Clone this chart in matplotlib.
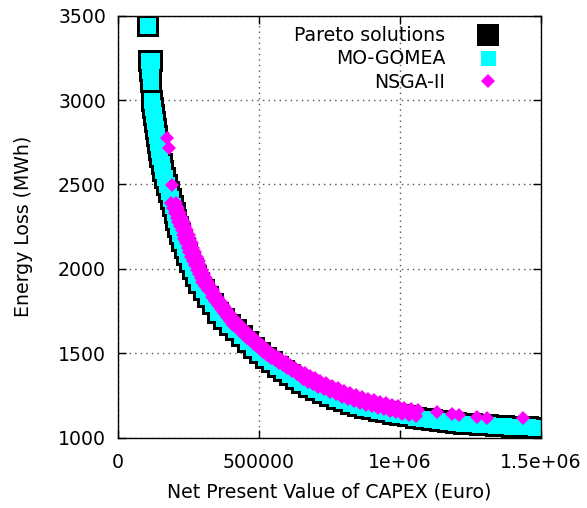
import matplotlib
matplotlib.use("Agg")
import matplotlib.pyplot as plt
from matplotlib.lines import Line2D

# ---- data ----
pareto_x = [105300, 111700, 118800, 113500, 115200, 117000, 117000,
            121600, 124100, 127700, 131200, 134800, 138300, 141800, 145400, 148900,
            154300, 159600, 164900, 172000, 179100, 186200, 193300, 200400, 207400,
            214500, 221600, 228700, 237600, 244700, 255300, 267700, 276600, 289000,
            305000, 320900, 336900, 354600, 375900, 397200, 418400, 439700, 461000,
            482300, 503500, 524800, 546100, 567400, 588700, 609900, 631200, 652500,
            677300, 702100, 727000, 751800, 776600, 801400, 826200, 851100, 875900,
            900700, 925500, 950400, 975200, 1000000, 1028400, 1056700, 1085100,
            1113500, 1141800, 1170200, 1198600, 1227000, 1255300, 1283700, 1312100,
            1340400, 1368800, 1397200, 1425500, 1453900, 1482300, 1510600]
pareto_y = [3439, 3232, 3232, 3202, 3172, 3143, 3107,
            2995, 2953, 2912, 2870, 2829, 2787, 2746, 2704, 2663,
            2621, 2580, 2539, 2497, 2456, 2414, 2373, 2331, 2290,
            2248, 2207, 2165, 2124, 2082, 2041, 1999, 1958, 1917,
            1875, 1834, 1792, 1739, 1703, 1668, 1635, 1603, 1567,
            1531, 1499, 1472, 1446, 1419, 1395, 1371, 1345, 1321,
            1300, 1283, 1265, 1247, 1229, 1214, 1200, 1188, 1176,
            1167, 1158, 1149, 1140, 1133, 1126, 1117, 1111,
            1105, 1099, 1093, 1087, 1082, 1078, 1075, 1072,
            1068, 1066, 1063, 1062, 1060, 1059, 1057]

gomea_x = list(pareto_x)
gomea_y = list(pareto_y)

nsga_x = [172700, 180900, 191500, 207400, 214500, 219900, 227000, 232300, 237600,
          244700, 250000, 255300, 262400, 267700, 273000, 280100, 285500, 290800,
          297900, 305000, 312100, 319100, 328000, 336900, 345700, 354600, 365200,
          375900, 386500, 397200, 407800, 418400, 430900, 443300, 455700, 468100,
          482300, 496500, 510600, 524800, 539000, 553200, 567400, 581600, 595700,
          609900, 627700, 645400, 663100, 680900, 698600, 716300, 737600, 758900,
          780100, 801400, 822700, 844000, 865200, 886500, 907800, 929100, 950400,
          971600, 992900, 1014200, 1039000, 1063800, 1130100, 1183300, 1210300,
          1272000, 1309600, 1437200,
          187900, 195000, 200400, 207500, 212800, 218100, 225200, 230500, 235800,
          242900, 248200, 253500, 260600, 266000, 271300, 278400, 285500, 292600,
          299600, 308500, 317400,
          335100, 344000, 354600, 365300, 375900, 386600, 397200, 407800, 420300,
          432700, 445100, 457500, 471700, 485900, 500000, 514200, 528400, 542600,
          556800, 571000, 585100, 599300, 617100, 634800,
          656000, 673800, 691500, 709200, 730500, 751800, 773000, 794300, 815600,
          836900, 858100, 879400, 900700, 922000, 943300, 964500, 985800, 1007100,
          1031900, 1056700]
nsga_y = [2776, 2719, 2497, 2390, 2361, 2331, 2302, 2278, 2254,
          2230, 2201, 2177, 2153, 2124, 2100, 2071, 2047, 2023,
          1994, 1970, 1946, 1922, 1899, 1875, 1851, 1828, 1804,
          1780, 1757, 1733, 1709, 1688, 1668, 1647, 1626, 1608,
          1588, 1567, 1546, 1526, 1508, 1490, 1475, 1460, 1446,
          1431, 1413, 1395, 1380, 1366, 1351, 1336, 1321, 1306,
          1291, 1277, 1265, 1253, 1241, 1229, 1220, 1212, 1203,
          1194, 1185, 1176, 1170, 1161, 1149, 1137, 1135,
          1124, 1117, 1115,
          2390, 2361, 2331, 2302, 2278, 2254, 2230, 2201, 2177,
          2153, 2124, 2100, 2071, 2047, 2023, 1994, 1970, 1946,
          1922, 1899, 1875,
          1833, 1810, 1786, 1762, 1739, 1715, 1691, 1670, 1650,
          1629, 1608, 1590, 1570, 1549, 1528, 1508, 1490, 1472,
          1457, 1442, 1428, 1413, 1395, 1377,
          1345, 1331, 1316, 1301, 1286, 1271, 1256, 1242, 1230,
          1218, 1206, 1194, 1185, 1177, 1168, 1159, 1150, 1141,
          1135, 1126]

x_ticks = [0, 500000, 1000000, 1500000]
x_tick_labels = ["0", "500000", "1e+06", "1.5e+06"]
y_ticks = [1000, 1500, 2000, 2500, 3000, 3500]
y_tick_labels = ["1000", "1500", "2000", "2500", "3000", "3500"]
series_labels = ["Pareto solutions", "MO-GOMEA", "NSGA-II"]

# ---- figure ----
W, H = 587, 508
fig = plt.figure(figsize=(W / 100, H / 100), dpi=100)
ax = fig.add_axes([118 / W, 1 - 437.6 / H, (541 - 118) / W, (437.6 - 15.7) / H])

FS = 13.6
ax.plot(pareto_x, pareto_y, ls="none", marker="s", ms=15.8, mew=0, color="black", zorder=3)
ax.plot(gomea_x, gomea_y, ls="none", marker="s", ms=11.9, mew=0, color="#00ffff", zorder=4)
ax.plot(nsga_x, nsga_y, ls="none", marker="D", ms=7.5, mew=0, color="#ff00ff", zorder=5)

ax.set_xlim(0, 1500000)
ax.set_ylim(1000, 3500)
ax.set_xticks(x_ticks, x_tick_labels)
ax.set_yticks(y_ticks, y_tick_labels)
ax.tick_params(direction="in", length=6, width=1, top=True, right=True,
               labelsize=FS, colors="black")
ax.tick_params(axis="y", pad=8.6)
ax.tick_params(axis="x", pad=11)
ax.grid(True, color="#555555", linestyle=(0, (1, 3)), linewidth=1.0, zorder=1)
ax.set_axisbelow(True)
for s in ax.spines.values():
    s.set_linewidth(1.0)
    s.set_zorder(6)

ax.set_xlabel("Net Present Value of CAPEX (Euro)", fontsize=FS, labelpad=8)
ax.set_ylabel("Energy Loss (MWh)", fontsize=FS, labelpad=18)

handles = [
    Line2D([], [], ls="none", marker="s", ms=15.8, mew=0, color="black"),
    Line2D([], [], ls="none", marker="s", ms=10.8, mew=0, color="#00ffff"),
    Line2D([], [], ls="none", marker="D", ms=7.5, mew=0, color="#ff00ff"),
]
ax.legend(handles, series_labels, loc="upper right", bbox_to_anchor=(0.896, 0.975),
          markerfirst=False, frameon=False, fontsize=FS, handlelength=1.0,
          handletextpad=1.75, labelspacing=0.22, borderpad=0, borderaxespad=0,
          numpoints=1)

fig.savefig("out.png", dpi=100)
